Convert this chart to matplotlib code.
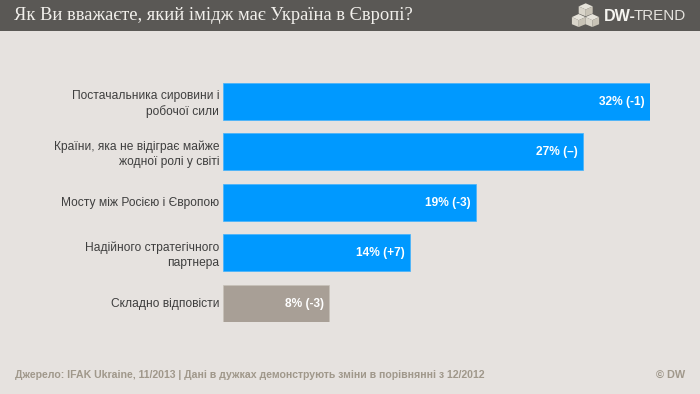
import matplotlib
matplotlib.use("Agg")
import matplotlib.pyplot as plt
from matplotlib.patches import Rectangle, Polygon
from matplotlib.transforms import ScaledTranslation

categories = ["Постачальника сировини і\nробочої сили",
              "Країни, яка не відіграє майже\nжодної ролі у світі",
              "Мосту між Росією і Європою",
              "Надійного стратегічного\nпартнера",
              "Складно відповісти"]
values = [32, 27, 19, 14, 8]
value_labels = ["32% (-1)", "27% (–)", "19% (-3)", "14% (+7)", "8% (-3)"]
bar_colors = ["#0099ff", "#0099ff", "#0099ff", "#0099ff", "#a89f96"]
bar_edges = ["#45b2fb", "#45b2fb", "#45b2fb", "#45b2fb", "#c6c0b8"]
title = "Як Ви вважаєте, який імідж має Україна в Європі?"
source = "Джерело: IFAK Ukraine, 11/2013 | Дані в дужках демонструють зміни в порівнянні з 12/2012"

W, H = 700, 394
BG = "#e6e2df"
fig = plt.figure(figsize=(W / 100, H / 100), dpi=100, facecolor=BG)

# overlay in pixel coordinates for header, logo and footer
ov = fig.add_axes([0, 0, 1, 1])
ov.set_xlim(0, W)
ov.set_ylim(H, 0)
ov.axis("off")
ov.add_patch(Rectangle((0, 0), W, 30.5, color="#5a5855", lw=0))
ov.text(14, 15.5, title, family="Liberation Serif", fontsize=13.3, color="#f2f0ec",
        va="center", ha="left")


def cube(cx, top, hw, hh):
    """Small isometric cube for the logo."""
    ov.add_patch(Polygon([(cx - hw, top + hh), (cx, top), (cx + hw, top + hh), (cx, top + 2 * hh)],
                         color="#e6e3da", lw=0))
    ov.add_patch(Polygon([(cx - hw, top + hh), (cx, top + 2 * hh), (cx, top + 4.2 * hh), (cx - hw, top + 3.3 * hh)],
                         color="#d9d5ca", lw=0))
    ov.add_patch(Polygon([(cx + hw, top + hh), (cx, top + 2 * hh), (cx, top + 4.2 * hh), (cx + hw, top + 3.3 * hh)],
                         color="#c8c3b6", lw=0))


cube(585.7, 3.3, 7, 3.1)
cube(578.7, 14, 6.8, 3.1)
cube(592.3, 14, 6.8, 3.1)
ov.text(603.5, 16.3, "DW-", family="Liberation Sans", fontweight="bold", fontsize=11.6,
        color="#f5f4f0", va="center", ha="left")
ov.text(634, 16.3, "TREND", family="Liberation Sans", fontsize=10.9,
        color="#e4e2dd", va="center", ha="left")

ov.text(15, 375, source, family="Liberation Sans", fontweight="bold", fontsize=7.55,
        color="#a0988b", va="center", ha="left")
ov.text(685, 375, "© DW", family="Liberation Sans", fontweight="bold", fontsize=7.8,
        color="#a0988b", va="center", ha="right")

# main bars
left, right, top, bottom = 222.5, 650, 83, 321.5
ax = fig.add_axes([left / W, 1 - bottom / H, (right - left) / W, (bottom - top) / H])
ax.patch.set_alpha(0)
y = list(range(len(values)))
ax.barh(y, values, height=0.723, color=bar_colors, edgecolor=bar_edges, linewidth=0.5)
ax.set_xlim(0, 32)
ax.set_ylim(len(values) - 1 + 0.3615, -0.3615)
ax.set_xticks([])
ax.set_yticks(y)
ax.set_yticklabels(categories, family="Liberation Sans", fontsize=8.65, color="#3f3f3f",
                   linespacing=1.32, ha="right")
ax.tick_params(axis="y", length=0, pad=2.3)
shift = ScaledTranslation(0, 0.7 / 100, fig.dpi_scale_trans)
for lab in ax.get_yticklabels():
    lab.set_transform(lab.get_transform() + shift)
for s in ax.spines.values():
    s.set_visible(False)
for yi, v, lab in zip(y, values, value_labels):
    ax.annotate(lab, xy=(v, yi), xytext=(-3.8, -0.5), textcoords="offset points",
                family="Liberation Sans", fontweight="bold", fontsize=8.6, color="white",
                ha="right", va="center")

fig.savefig("out.png", dpi=100, facecolor=BG)
